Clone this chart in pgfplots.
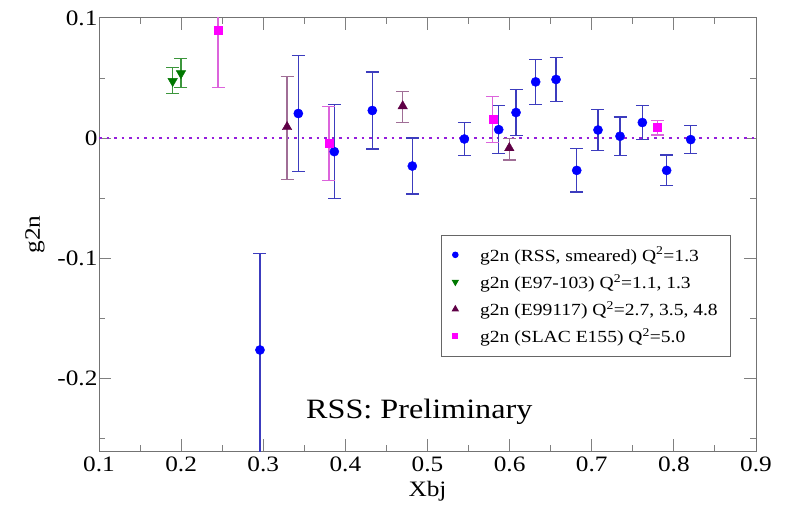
\documentclass[border=0pt]{standalone}
\usepackage{fontspec}
\setmainfont{Liberation Serif}[FakeStretch=1.15]
\usepackage{pgfplots}
\pgfplotsset{compat=1.18}
\usepackage{pgfplotstable}

\definecolor{cblue}{RGB}{0,0,255}
\definecolor{cblueE}{RGB}{60,60,190}
\definecolor{cgreen}{RGB}{0,120,0}
\definecolor{cgreenE}{RGB}{60,150,60}
\definecolor{cmaroon}{RGB}{95,0,70}
\definecolor{cmaroonE}{RGB}{160,110,150}
\definecolor{cmag}{RGB}{255,0,255}
\definecolor{cmagE}{RGB}{220,100,220}
\definecolor{cline}{RGB}{150,30,220}

\pgfplotstableread{
x y ep em
0.296 -0.176 0.080 0.100
0.3427 0.0206 0.048 0.048
0.3865 -0.0111 0.039 0.039
0.4328 0.0231 0.032 0.032
0.4815 -0.0231 0.0233 0.0233
0.5449 -0.0006 0.0137 0.0137
0.5867 0.0072 0.020 0.020
0.6078 0.0214 0.019 0.019
0.6317 0.0469 0.0185 0.0185
0.6565 0.0489 0.018 0.018
0.6817 -0.0267 0.018 0.018
0.7076 0.0069 0.017 0.017
0.7344 0.0017 0.016 0.016
0.7616 0.0131 0.014 0.014
0.7912 -0.0267 0.0128 0.0128
0.8205 -0.0011 0.0115 0.0115
}\rss

\pgfplotstableread{
x y ep em
0.1897 0.0475 0.0115 0.0105
0.1998 0.054 0.012 0.0115
}\ejlab

\pgfplotstableread{
x y ep em
0.329 0.0094 0.042 0.044
0.4698 0.0267 0.0124 0.0136
0.5996 -0.0081 0.0078 0.0099
}\eninety

\pgfplotstableread{
x y ep em
0.245 0.090 0.048 0.048
0.380 -0.0039 0.0303 0.0314
0.5794 0.0158 0.0189 0.0191
0.7798 0.0089 0.0061 0.0061
}\slac

\begin{document}
\begin{tikzpicture}
\begin{axis}[
  scale only axis,
  width=657pt, height=433pt,
  xmin=0.1, xmax=0.9, ymin=-0.26, ymax=0.1,
  xtick={0.1,0.2,...,0.9},
  ytick={-0.2,-0.1,0,0.1},
  minor xtick={0.15,0.25,...,0.85},
  minor ytick={-0.25,-0.15,-0.05,0.05},
  major tick length=12pt, minor tick length=6pt,
  every tick/.style={gray, line width=1pt},
  axis line style={gray!90!black, line width=1pt},
  tick label style={font=\fontsize{22}{24}\selectfont},
  /pgf/number format/assume math mode=true,
  xticklabel style={yshift=-2pt},
  yticklabel style={xshift=2pt},
  xlabel={Xbj}, ylabel={g2n},
  label style={font=\fontsize{22}{24}\selectfont},
  xlabel style={yshift=-3pt},
  ylabel style={yshift=6pt},
  legend style={at={(axis cs:0.5164,-0.08)}, anchor=north west,
    draw=gray!80!black, line width=1pt, font=\fontsize{17}{19}\selectfont,
    row sep=7.5pt, inner xsep=11pt, inner ysep=10pt,
    /tikz/every odd column/.append style={column sep=20pt}},
  legend image post style={scale=0.6},
  legend cell align=left,
  error bars/error bar style={line width=1.2pt},
]
\addplot[cline, line width=1.8pt, dash pattern=on 2.5pt off 5pt, forget plot] coordinates {(0.1,0) (0.9,0)};

\addplot[only marks, mark=*, mark size=4.6pt, color=cblue,
  error bars/.cd, y dir=both, y explicit,
  error bar style={cblueE, line width=1.2pt},
  error mark options={cblueE, rotate=90, mark size=6.5pt, line width=1.2pt}]
  table[x=x, y=y, y error plus=ep, y error minus=em] {\rss};
\addlegendentry{g2n (RSS, smeared) Q\textsuperscript{2}=1.3}

\addplot[only marks, mark=triangle*, mark options={rotate=180}, mark size=5.5pt, color=cgreen,
  error bars/.cd, y dir=both, y explicit,
  error bar style={cgreenE, line width=1.2pt},
  error mark options={cgreenE, rotate=90, mark size=6.5pt, line width=1.2pt}]
  table[x=x, y=y, y error plus=ep, y error minus=em] {\ejlab};
\addlegendentry{g2n (E97-103) Q\textsuperscript{2}=1.1, 1.3}

\addplot[only marks, mark=triangle*, mark size=5.5pt, color=cmaroon,
  error bars/.cd, y dir=both, y explicit,
  error bar style={cmaroonE, line width=1.2pt},
  error mark options={cmaroonE, rotate=90, mark size=6.5pt, line width=1.2pt}]
  table[x=x, y=y, y error plus=ep, y error minus=em] {\eninety};
\addlegendentry{g2n (E99117) Q\textsuperscript{2}=2.7, 3.5, 4.8}

\addplot[only marks, mark=square*, mark size=4pt, color=cmag,
  error bars/.cd, y dir=both, y explicit,
  error bar style={cmagE, line width=1.2pt},
  error mark options={cmagE, rotate=90, mark size=6.5pt, line width=1.2pt}]
  table[x=x, y=y, y error plus=ep, y error minus=em] {\slac};
\addlegendentry{g2n (SLAC E155) Q\textsuperscript{2}=5.0}

\node[font=\fontsize{28}{32}\selectfont, anchor=center] at (axis cs:0.49,-0.2275) {RSS: Preliminary};
\end{axis}
\path ([shift={(-99pt,-48pt)}]current axis.south west) rectangle ([shift={(32pt,18pt)}]current axis.north east);
\end{tikzpicture}
\end{document}
